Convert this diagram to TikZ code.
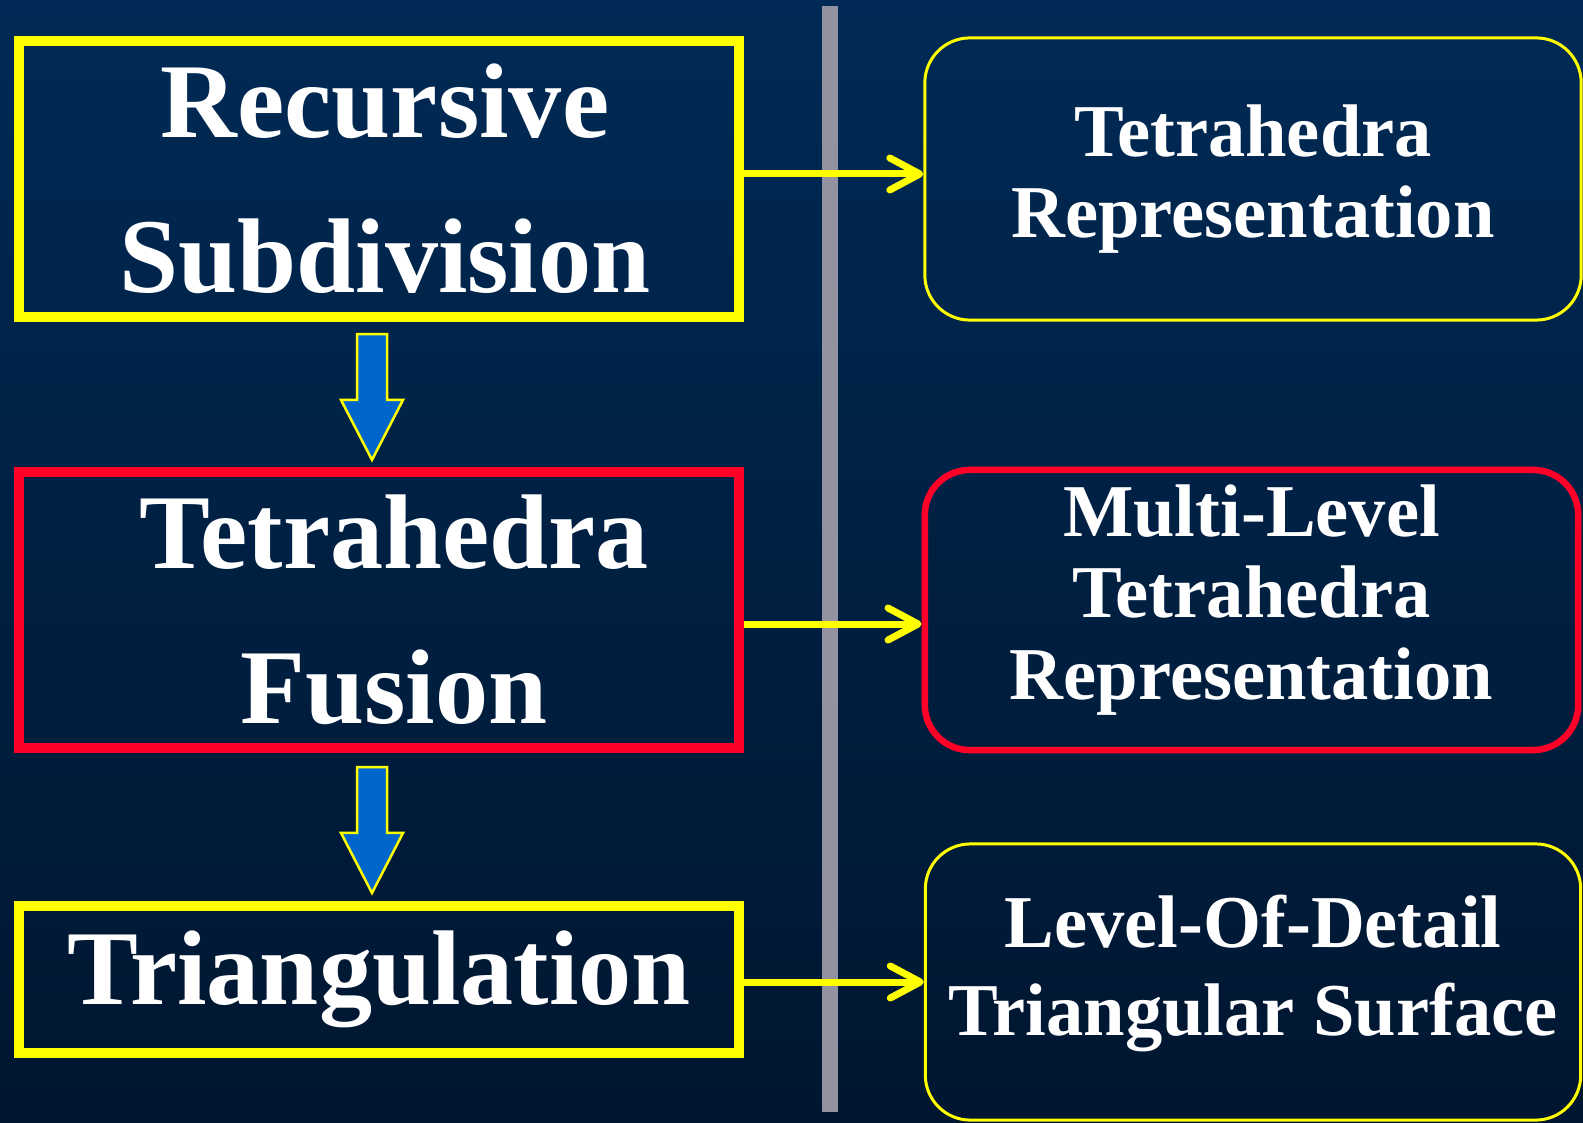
\documentclass[tikz,border=0pt]{standalone}
\usepackage{fontspec}
\setmainfont{Liberation Serif}
\usetikzlibrary{arrows.meta,calc}
\definecolor{slide-top}{RGB}{0,42,85}
\definecolor{slide-bottom}{RGB}{0,22,48}
\definecolor{slide-yellow}{RGB}{255,255,0}
\definecolor{slide-red}{RGB}{255,0,40}
\definecolor{slide-blue}{RGB}{0,102,204}
\definecolor{slide-gray}{RGB}{146,146,160}

\begin{document}
\begin{tikzpicture}[x=0.01cm, y=-0.01cm,
    stage/.style={draw, line width=0.1cm, minimum width=7.2cm, text=white, align=center, inner sep=0pt,
        font=\bfseries\fontsize{30.2}{44.1}\selectfont},
    result/.style={draw=slide-yellow, line width=0.03cm, rounded corners=0.45cm, text=white, align=center, inner sep=0pt,
        font=\bfseries\fontsize{21.2}{23.2}\selectfont},
    link/.style={draw=slide-yellow, line width=0.07cm, -{Straight Barb[length=0.3cm, width=0.32cm, round]}},
    flow/.style={draw=slide-yellow, line width=0.025cm, fill=slide-blue, line join=miter}]
            \useasboundingbox (0,0) rectangle (1583,1122);
            % Background
            \shade[top color=slide-top, bottom color=slide-bottom] (0,0) rectangle (1583,1122);
            \fill[slide-gray] (822,6) rectangle (838,1112);
            
            % Pipeline steps
            \node[stage, draw=slide-yellow, minimum height=2.76cm] (recsub) at (379,179) {\hspace*{0.12cm}Recursive\\\hspace*{0.12cm}Subdivision};
            \node[stage, draw=slide-red, minimum height=2.76cm] (tetfus) at (379,610) {\hspace*{0.3cm}Tetrahedra\\\hspace*{0.3cm}Fusion};
            \node[stage, draw=slide-yellow, minimum height=1.47cm] (triang) at (379,979.5) {Triangulation};
            
            % Results
            \node[result, minimum width=6.56cm, minimum height=2.82cm] (tetrep) at (1253,179) {Tetrahedra\\Representation};
            \node[result, draw=slide-red, line width=0.065cm, minimum width=6.53cm, minimum height=2.8cm, text depth=0.36cm] (mltrep) at (1251.5,610) {Multi-Level\\Tetrahedra\\Representation};
            \node[result, minimum width=6.55cm, minimum height=2.76cm, text depth=0.34cm,
                font=\bfseries\fontsize{21.2}{25}\selectfont] (lodsurf) at (1253,982) {Level-Of-Detail\\Triangular Surface};
            
            % Flow arrows
            \coordinate (flow1-top) at ([xshift=-0.07cm, yshift=-0.12cm]recsub.south);
            \coordinate (flow1-tip) at ([xshift=-0.07cm, yshift=0.07cm]tetfus.north);
            \coordinate (flow2-top) at ([xshift=-0.07cm, yshift=-0.14cm]tetfus.south);
            \coordinate (flow2-tip) at ([xshift=-0.07cm, yshift=0.08cm]triang.north);
            \draw[flow] ($(flow1-top)+(-15,0)$) -- ($(flow1-top)+(15,0)$) -- ($(flow1-tip)+(15,-60)$) -- ($(flow1-tip)+(31,-60)$)
                -- (flow1-tip) -- ($(flow1-tip)+(-31,-60)$) -- ($(flow1-tip)+(-15,-60)$) -- cycle;
            \draw[flow] ($(flow2-top)+(-15,0)$) -- ($(flow2-top)+(15,0)$) -- ($(flow2-tip)+(15,-60)$) -- ($(flow2-tip)+(31,-60)$)
                -- (flow2-tip) -- ($(flow2-tip)+(-31,-60)$) -- ($(flow2-tip)+(-15,-60)$) -- cycle;
            
            % Connections
            \draw[link] ([yshift=0.05cm]recsub.east) -- ([yshift=0.05cm]tetrep.west);
            \draw[link] ([yshift=-0.14cm]tetfus.east) -- ([yshift=-0.14cm]mltrep.west);
            \draw[link] (triang.east |- lodsurf.west) -- (lodsurf.west);
\end{tikzpicture}
\end{document}
